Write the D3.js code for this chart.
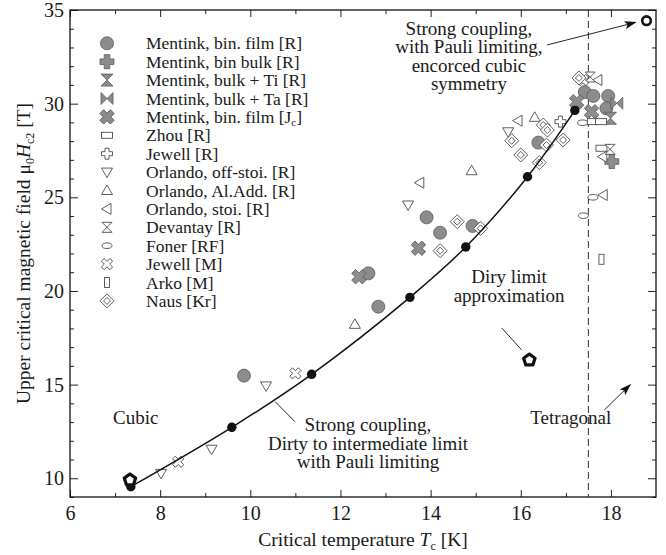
<!DOCTYPE html>
<html><head><meta charset="utf-8">
<script src="https://cdn.jsdelivr.net/npm/d3@7"></script>
<style>
body{margin:0;background:#fff}
svg{display:block}
text{font-family:"Liberation Serif","Times New Roman",serif;fill:#1a1a1a}
</style>
</head><body>
<svg id="chart" width="666" height="555"></svg>
<script>
// ---------------- DATA (Tc [K], mu0Hc2 [T]) ----------------
const xTickLabels = [6, 8, 10, 12, 14, 16, 18];
const yTickLabels = [10, 15, 20, 25, 30, 35];

const mentinkBinFilmR = [[9.86,15.48],[12.62,20.94],[12.84,19.16],[13.91,23.93],[14.21,23.11],[14.93,23.47],[16.39,27.92],[17.42,30.62],[17.61,30.41],[17.94,30.41],[17.90,29.75]];
const mentinkBinBulkR = [[18.02,26.91]];
const mentinkBulkTiR = [[17.99,29.22]];
const mentinkBulkTaR = [[18.13,30.02]];
const mentinkBinFilmJc = [[12.41,20.76],[13.73,22.28],[17.24,30.10],[17.57,29.57]];
const zhouR = [[17.60,29.04],[17.78,29.04],[17.79,27.62]];
const jewellR = [[16.88,29.04]];
const orlandoOffStoi = [[8.02,10.26],[9.14,11.55],[10.35,14.93],[13.50,24.59],[15.72,28.50]];
const orlandoAlAdd = [[12.32,18.22],[14.91,26.42],[16.31,29.27]];
const orlandoStoi = [[13.76,25.78],[15.94,29.09],[17.71,31.26],[17.82,27.17],[17.83,25.12]];
const devantayR = [[17.54,31.42],[17.98,27.56]];
const fonerRF = [[17.37,28.98],[17.60,25.00],[17.39,24.02]];
const jewellM = [[8.40,10.88],[11.00,15.60],[17.38,31.26]];
const arkoM = [[17.79,21.69]];
const nausKr = [[14.21,22.15],[14.59,23.70],[15.11,23.34],[15.80,28.02],[16.00,27.26],[16.41,26.85],[16.50,28.86],[16.59,28.59],[16.57,27.79],[16.94,28.06],[17.29,31.37]];

const curveT = [7.35, 9.59, 11.36, 13.54, 14.78, 16.15, 17.20];
const curveH = [9.55, 12.72, 15.55, 19.66, 22.35, 26.10, 29.64];

const dirtyLimit = [[7.33, 9.91],[16.19, 16.31]];
const cubicPauli = [[18.79, 34.43]];
const tetragonalTc = 17.5;

const seriesNames = ["Mentink, bin. film [R]","Mentink, bin bulk [R]","Mentink, bulk + Ti [R]","Mentink, bulk + Ta [R]","Mentink, bin. film [J_c]","Zhou [R]","Jewell [R]","Orlando, off-stoi. [R]","Orlando, Al.Add. [R]","Orlando, stoi. [R]","Devantay [R]","Foner [RF]","Jewell [M]","Arko [M]","Naus [Kr]"];
const seriesMarkers = ["circleG","plusG","hourglassG","bowtieG","xG","rectWide","plusO","triDown","triUp","triLeft","hourglassO","ellipse","xO","rectTall","diamond2"];
const seriesData = [mentinkBinFilmR,mentinkBinBulkR,mentinkBulkTiR,mentinkBulkTaR,mentinkBinFilmJc,zhouR,jewellR,orlandoOffStoi,orlandoAlAdd,orlandoStoi,devantayR,fonerRF,jewellM,arkoM,nausKr];

// ---------------- CHART ----------------
const W = 666, H = 555;
const m = {left:70, right:10, top:10, bottom:58};
const svg = d3.select("#chart");
const x = d3.scaleLinear().domain([6,19]).range([m.left, W-m.right]);
const y = d3.scaleLinear().domain([9,35]).range([H-m.bottom, m.top]);

const gray = "#8c8c8c", grayS = "#5a5a5a", openS = "#4d4d4d";

svg.append("defs").append("marker")
  .attr("id","arrow").attr("viewBox","0 0 12 8").attr("refX",11).attr("refY",4)
  .attr("markerWidth",12).attr("markerHeight",8).attr("markerUnits","userSpaceOnUse")
  .attr("orient","auto")
  .append("path").attr("d","M0,0 L12,4 L0,8 L2.5,4 Z").attr("fill","#111");

function plusPath(a,w){return `M${-w},${-a}H${w}V${-w}H${a}V${w}H${w}V${a}H${-w}V${w}H${-a}V${-w}H${-w}Z`;}

function drawMarker(g, type){
  switch(type){
    case "circleG": g.append("circle").attr("r",6.5).attr("fill",gray).attr("stroke",grayS).attr("stroke-width",0.8); break;
    case "plusG": g.append("path").attr("d",plusPath(7,2.8)).attr("fill",gray).attr("stroke",grayS).attr("stroke-width",0.8); break;
    case "xG": g.append("path").attr("d",plusPath(7.5,2.7)).attr("transform","rotate(45)").attr("fill",gray).attr("stroke",grayS).attr("stroke-width",0.8); break;
    case "hourglassG": g.append("path").attr("d","M-6,-6H6L-6,6H6Z").attr("fill",gray).attr("stroke",grayS).attr("stroke-width",0.8); break;
    case "bowtieG": g.append("path").attr("d","M-6,-6V6L6,-6V6Z").attr("fill",gray).attr("stroke",grayS).attr("stroke-width",0.8); break;
    case "rectWide": g.append("rect").attr("x",-5.5).attr("y",-3).attr("width",11).attr("height",6).attr("fill","#fff").attr("stroke",openS).attr("stroke-width",0.9); break;
    case "rectTall": g.append("rect").attr("x",-2.5).attr("y",-5).attr("width",5).attr("height",10).attr("fill","#fff").attr("stroke",openS).attr("stroke-width",0.9); break;
    case "plusO": g.append("path").attr("d",plusPath(5.5,2)).attr("fill","#fff").attr("stroke",openS).attr("stroke-width",0.9); break;
    case "xO": g.append("path").attr("d",plusPath(6,1.9)).attr("transform","rotate(45)").attr("fill","#fff").attr("stroke",openS).attr("stroke-width",0.9); break;
    case "triDown": g.append("path").attr("d","M-5.5,-4L5.5,-4L0,5.5Z").attr("fill","#fff").attr("stroke",openS).attr("stroke-width",0.9); break;
    case "triUp": g.append("path").attr("d","M-5.5,4L5.5,4L0,-5.5Z").attr("fill","#fff").attr("stroke",openS).attr("stroke-width",0.9); break;
    case "triLeft": g.append("path").attr("d","M4,-5.5L4,5.5L-5.5,0Z").attr("fill","#fff").attr("stroke",openS).attr("stroke-width",0.9); break;
    case "hourglassO": g.append("path").attr("d","M-5,-5H5L-5,5H5Z").attr("fill","#fff").attr("stroke",openS).attr("stroke-width",0.9); break;
    case "ellipse": g.append("ellipse").attr("rx",5).attr("ry",2.8).attr("fill","#fff").attr("stroke",openS).attr("stroke-width",0.9); break;
    case "diamond2":
      g.append("path").attr("d","M0,-7L7,0L0,7L-7,0Z").attr("fill","#fff").attr("stroke",openS).attr("stroke-width",0.9);
      g.append("path").attr("d","M0,-3.5L3.5,0L0,3.5L-3.5,0Z").attr("fill","#fff").attr("stroke",openS).attr("stroke-width",0.9);
      break;
  }
}

// ---- axes (inward ticks on all four sides) ----
const xMinor = d3.range(7,19,2), yMinor = d3.range(9,35,1).filter(v=>v%5!==0);
const fontTick = "20px";

function styleAxis(g){ g.select(".domain").remove(); g.selectAll("line").attr("stroke","#222"); }

svg.append("g").attr("transform",`translate(0,${y(9)})`)
  .call(d3.axisBottom(x).tickValues(xTickLabels).tickSizeInner(-7).tickSizeOuter(0).tickPadding(9).tickFormat(d3.format("d")))
  .call(styleAxis).call(g=>g.selectAll("text").style("font-size",fontTick).attr("fill","#1a1a1a"));
svg.append("g").attr("transform",`translate(0,${y(9)})`)
  .call(d3.axisBottom(x).tickValues(xMinor).tickSizeInner(-4).tickSizeOuter(0).tickFormat(""))
  .call(styleAxis);
svg.append("g").attr("transform",`translate(0,${y(35)})`)
  .call(d3.axisTop(x).tickValues(xTickLabels).tickSizeInner(-7).tickSizeOuter(0).tickFormat(""))
  .call(styleAxis);
svg.append("g").attr("transform",`translate(0,${y(35)})`)
  .call(d3.axisTop(x).tickValues(xMinor).tickSizeInner(-4).tickSizeOuter(0).tickFormat(""))
  .call(styleAxis);
svg.append("g").attr("transform",`translate(${x(6)},0)`)
  .call(d3.axisLeft(y).tickValues(yTickLabels).tickSizeInner(-8).tickSizeOuter(0).tickPadding(6).tickFormat(d3.format("d")))
  .call(styleAxis).call(g=>g.selectAll("text").style("font-size",fontTick).attr("fill","#1a1a1a"));
svg.append("g").attr("transform",`translate(${x(6)},0)`)
  .call(d3.axisLeft(y).tickValues(yMinor).tickSizeInner(-4).tickSizeOuter(0).tickFormat(""))
  .call(styleAxis);
svg.append("g").attr("transform",`translate(${x(19)},0)`)
  .call(d3.axisRight(y).tickValues(yTickLabels).tickSizeInner(-8).tickSizeOuter(0).tickFormat(""))
  .call(styleAxis);
svg.append("g").attr("transform",`translate(${x(19)},0)`)
  .call(d3.axisRight(y).tickValues(yMinor).tickSizeInner(-4).tickSizeOuter(0).tickFormat(""))
  .call(styleAxis);

svg.append("rect").attr("x",x(6)).attr("y",y(35)).attr("width",x(19)-x(6)).attr("height",y(9)-y(35))
  .attr("fill","none").attr("stroke","#111").attr("stroke-width",1.3);

// axis titles
const xl = svg.append("text").attr("x",(x(6)+x(19))/2).attr("y",546).attr("text-anchor","middle").style("font-size","19.5px");
xl.append("tspan").text("Critical temperature ");
xl.append("tspan").attr("font-style","italic").text("T");
xl.append("tspan").attr("dy",4).style("font-size","12px").text("c");
xl.append("tspan").attr("dy",-4).text(" [K]");

const yl = svg.append("text").attr("transform",`translate(30,${(y(9)+y(35))/2}) rotate(-90)`).attr("text-anchor","middle").style("font-size","19.5px");
yl.append("tspan").text("Upper critical magnetic field μ");
yl.append("tspan").attr("dy",4).style("font-size","12px").text("0");
yl.append("tspan").attr("dy",-4).attr("font-style","italic").text("H");
yl.append("tspan").attr("dy",4).style("font-size","12px").text("c2");
yl.append("tspan").attr("dy",-4).text(" [T]");

// dashed tetragonal boundary
svg.append("line").attr("x1",x(tetragonalTc)).attr("x2",x(tetragonalTc)).attr("y1",y(35)).attr("y2",y(9))
  .attr("stroke","#333").attr("stroke-width",1).attr("stroke-dasharray","7,4");

// scatter series
seriesData.forEach((data,i)=>{
  data.forEach(d=>{
    const g = svg.append("g").attr("transform",`translate(${x(d[0])},${y(d[1])})`);
    drawMarker(g, seriesMarkers[i]);
  });
});

// model curve
const curvePts = curveT.map((t,i)=>[t,curveH[i]]);
svg.append("path").datum(curvePts)
  .attr("d",d3.line().x(d=>x(d[0])).y(d=>y(d[1])).curve(d3.curveCatmullRom.alpha(0.5)))
  .attr("fill","none").attr("stroke","#111").attr("stroke-width",1.5);
svg.selectAll(".bdot").data(curvePts).join("circle").attr("class","bdot")
  .attr("cx",d=>x(d[0])).attr("cy",d=>y(d[1])).attr("r",4.7).attr("fill","#111");

// dirty-limit pentagons
const pent = d3.range(5).map(i=>{const a=(-90+72*i)*Math.PI/180; return [6*Math.cos(a),6*Math.sin(a)];});
dirtyLimit.forEach(d=>{
  svg.append("path").attr("transform",`translate(${x(d[0])},${y(d[1])})`)
    .attr("d","M"+pent.map(p=>p.join(",")).join("L")+"Z")
    .attr("fill","#fff").attr("stroke","#111").attr("stroke-width",3.2).attr("stroke-linejoin","round");
});
// cubic-symmetry ring
cubicPauli.forEach(d=>{
  svg.append("circle").attr("cx",x(d[0])).attr("cy",y(d[1])).attr("r",4.3)
    .attr("fill","#fff").attr("stroke","#111").attr("stroke-width",2.6);
});

// ---- annotations ----
function multiText(tx, ty, lines, lh){
  const t = svg.append("text").attr("x",x(tx)).attr("y",y(ty)).attr("text-anchor","middle").style("font-size","19px");
  lines.forEach((l,i)=>t.append("tspan").attr("x",x(tx)).attr("dy",i===0?0:lh).text(l));
}
multiText(14.85, 33.69, ["Strong coupling,","with Pauli limiting,","encorced cubic","symmetry"], 18.6);
multiText(7.46, 12.9, ["Cubic"], 18.6);
multiText(12.61, 12.52, ["Strong coupling,","Dirty to intermediate limit","with Pauli limiting"], 18.6);
multiText(15.74, 20.43, ["Diry limit","approximation"], 18.6);
multiText(17.11, 12.9, ["Tetragonal"], 18.6);

function seg(t1,h1,t2,h2,arrow){
  const l = svg.append("line").attr("x1",x(t1)).attr("y1",y(h1)).attr("x2",x(t2)).attr("y2",y(h2))
    .attr("stroke","#111").attr("stroke-width",0.9);
  if(arrow) l.attr("marker-end","url(#arrow)");
}
seg(16.58,33.13,18.55,34.34,true);
seg(17.85,13.64,18.43,15.0,true);
seg(15.58,18.02,16.02,16.85,false);
seg(10.55,14.09,10.99,13.02,false);

// ---- legend ----
const lg = svg.append("g");
seriesNames.forEach((name,i)=>{
  const yy = 43.3 + i*18.4;
  const g = lg.append("g").attr("transform",`translate(107,${yy})`);
  drawMarker(g, seriesMarkers[i]);
  const t = lg.append("text").attr("x",146).attr("y",yy+6).style("font-size","17.5px");
  if(name.includes("J_c")){
    const parts = name.split("J_c");
    t.append("tspan").text(parts[0]+"J");
    t.append("tspan").attr("dy",3.5).style("font-size","11px").text("c");
    t.append("tspan").attr("dy",-3.5).text(parts[1]);
  } else t.text(name);
});
</script>
</body></html>
